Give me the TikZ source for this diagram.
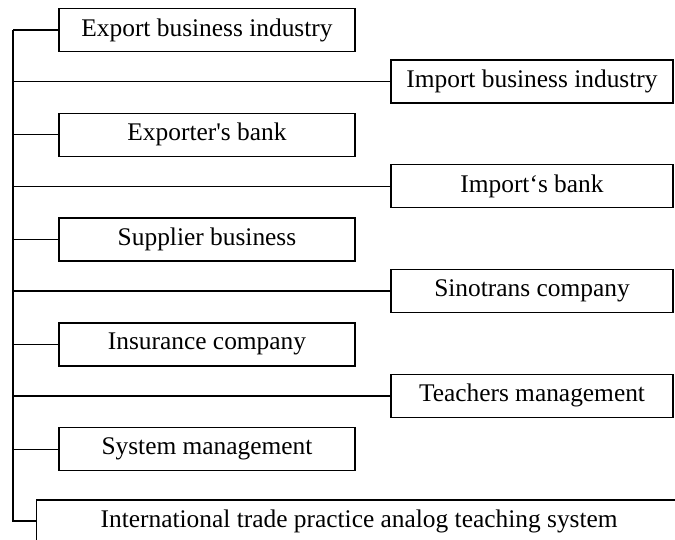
\documentclass[tikz,border=0pt]{standalone}
\usepackage{fontspec}
\setmainfont{Liberation Serif}[Ligatures=TeXOff]
\usetikzlibrary{positioning}

\begin{document}
\begin{tikzpicture}[x=0.5pt, y=-0.5pt, node distance=30.25pt,
		every node/.style={font=\fontsize{12.7}{15}\selectfont},
		leftbox/.style={draw, line width=0.65pt, minimum width=148pt, minimum height=21.5pt, inner sep=0pt},
		rightbox/.style={draw, line width=0.65pt, minimum width=141pt, minimum height=21.5pt, inner sep=0pt},
		link/.style={line width=0.65pt},
		spine/.style={line width=1.1pt}]
		\useasboundingbox (0,0) rectangle (675,540);
		\coordinate (s) at (13,0);
		% left column
		\node[leftbox] (1) at (207,30) {Export business industry};
		\node[leftbox] (3)[below=of 1]{Exporter's bank};
		\node[leftbox] (5)[below=of 3]{Supplier business};
		\node[leftbox] (7)[below=of 5]{Insurance company};
		\node[leftbox] (9)[below=of 7]{System management};
		% right column
		\node[rightbox] (2) at (532,81.5) {Import business industry};
		\node[rightbox] (4)[below=of 2]{Import‘s bank};
		\node[rightbox] (6)[below=of 4]{Sinotrans company};
		\node[rightbox] (8)[below=of 6]{Teachers management};
		% bottom
		\node[draw, line width=0.65pt, anchor=west, minimum height=21pt, inner ysep=0pt, inner xsep=32pt] (10) at (36,521) {International trade practice analog teaching system\hspace*{80pt}};
		\draw[link] (1.west -| s)--(1.west);
		\draw[link] (2.west -| s)--(2.west);
		\draw[link] (3.west -| s)--(3.west);
		\draw[link] (4.west -| s)--(4.west);
		\draw[link] (5.west -| s)--(5.west);
		\draw[link] (6.west -| s)--(6.west);
		\draw[link] (7.west -| s)--(7.west);
		\draw[link] (8.west -| s)--(8.west);
		\draw[link] (9.west -| s)--(9.west);
		\draw[spine] (1.west -| s) |- (10.west);
	\end{tikzpicture}
\end{document}
